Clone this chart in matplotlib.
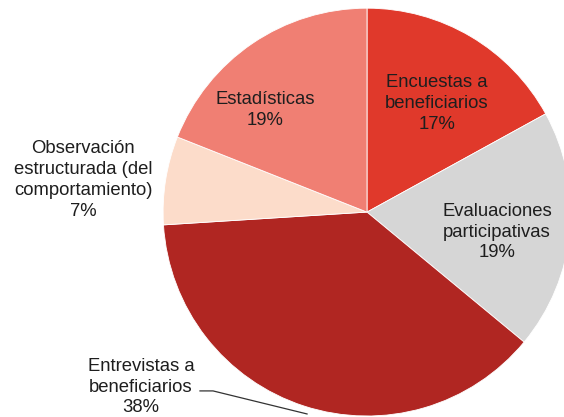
import matplotlib
matplotlib.use("Agg")
import matplotlib.pyplot as plt
import numpy as np

plt.rcParams['font.family'] = ['Liberation Sans', 'DejaVu Sans']

# slices, clockwise from 12 o'clock
labels = ["Encuestas a\nbeneficiarios", "Evaluaciones\nparticipativas",
          "Entrevistas a\nbeneficiarios", "Observación\nestructurada (del\ncomportamiento)",
          "Estadísticas"]
shares = [17, 19, 38, 7, 19]
colors = ["#e0392b", "#d6d6d6", "#b02622", "#fcdcca", "#f07f73"]

# label centres in data units (pie radius = 1)
label_pos = [(0.343, 0.534), (0.637, -0.098), (-1.108, -0.858), (-1.392, 0.157), (-0.5, 0.5)]

fig = plt.figure(figsize=(5.64, 4.17), dpi=100)
ax = fig.add_axes([0.289, 0.0024, 0.7234, 0.978])

wedges, _ = ax.pie(shares, colors=colors, startangle=90, counterclock=False,
                   radius=1, wedgeprops=dict(edgecolor="white", linewidth=0.6))
ax.set_xlim(-1, 1)
ax.set_ylim(-1, 1)
ax.set_aspect("equal")
ax.axis("off")

for lab, val, (x, y) in zip(labels, shares, label_pos):
    ax.text(x, y, f"{lab}\n{val}%", ha="center", va="center", fontsize=13.3,
            color="#1e1e1e", linespacing=1.3, clip_on=False)

# leader line for the outside "Entrevistas" label
ax.plot([-0.819, -0.755, -0.294], [-0.877, -0.877, -0.99], color="#333333",
        lw=0.9, clip_on=False)

fig.savefig("out.png", dpi=100)
